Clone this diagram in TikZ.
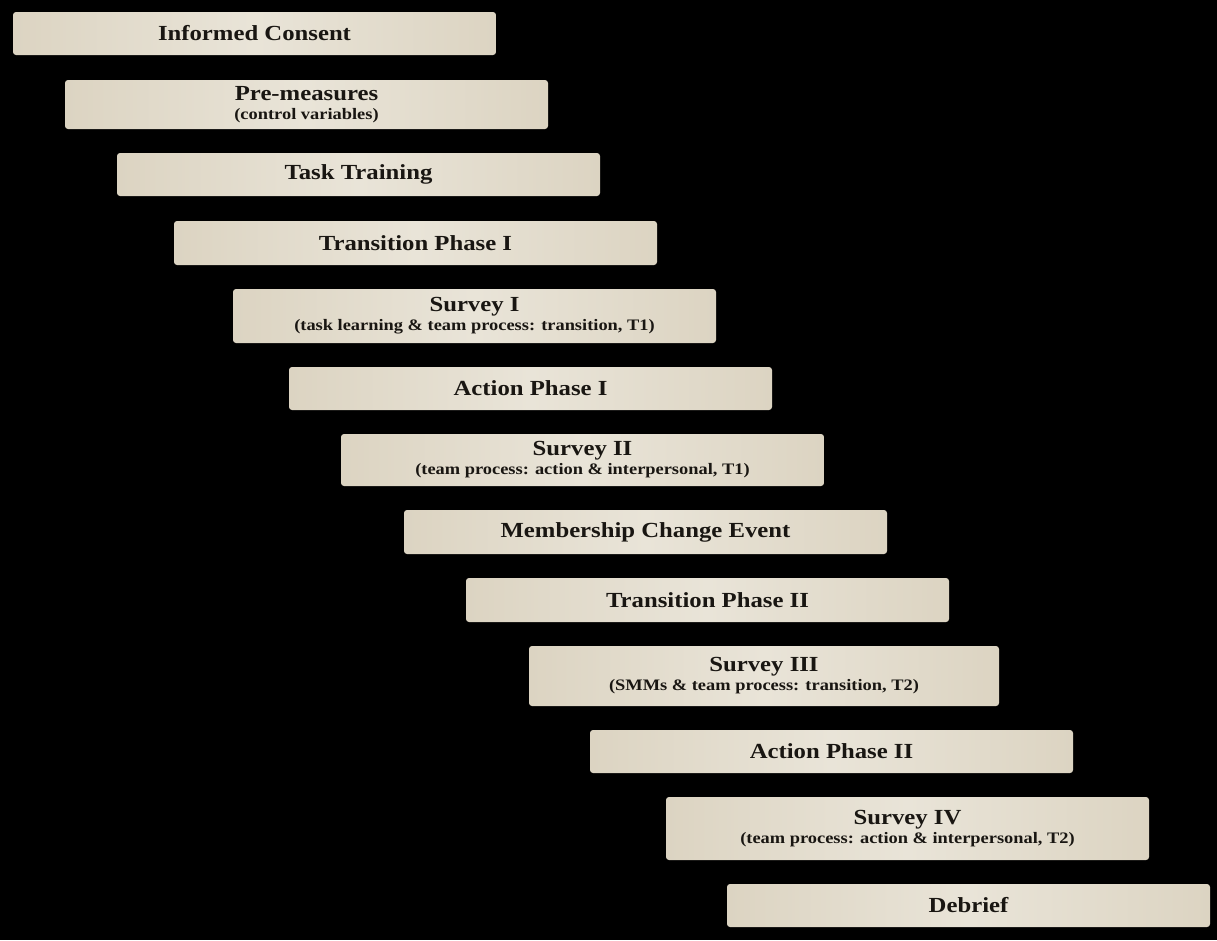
\documentclass[tikz,border=0pt]{standalone}
\usepackage{fontspec}
\setmainfont{Liberation Serif}
\newfontfamily\stagefont[FakeStretch=1.15]{Liberation Serif}
\definecolor{boxedge}{RGB}{220,212,194}
\definecolor{boxmid}{RGB}{233,228,216}
\definecolor{txt}{RGB}{25,22,18}
\begin{document}
\begin{tikzpicture}[x=1pt,y=-1pt,
  stage/.style={rounded corners=3pt, left color=boxedge, right color=boxedge, middle color=boxmid,
    text=txt, align=center, inner sep=0pt, font=\stagefont\fontsize{21.5}{23}\selectfont\bfseries}]
\fill[black] (0,0) rectangle (1217,940);
\useasboundingbox (0,0) rectangle (1217,940);
\newcommand{\stg}[6]{% name, x1, y1, x2, y2, text
  \node[stage, minimum width={#4-#2}, minimum height={#5-#3}] (#1) at ({(#2+#4)/2},{(#3+#5)/2}) {#6};}
\newcommand{\subt}[1]{\\[-4pt]{\fontsize{16}{18}\selectfont #1}}
\stg{ic}{13}{12}{496}{55}{Informed Consent}
\stg{pm}{65}{80}{548}{129}{Pre-measures\subt{(control variables)}}
\stg{tt}{117}{153}{600}{196}{Task Training}
\stg{tp1}{174}{221}{657}{265}{Transition Phase I}
\stg{s1}{233}{289}{716}{343}{Survey I\subt{(task learning \& team process: transition, T1)}}
\stg{ap1}{289}{367}{772}{410}{Action Phase I}
\stg{s2}{341}{434}{824}{486}{Survey II\subt{(team process: action \& interpersonal, T1)}}
\stg{mce}{404}{510}{887}{554}{Membership Change Event}
\stg{tp2}{466}{578}{949}{622}{Transition Phase II}
\stg{s3}{529}{646}{999}{706}{Survey III\subt{(SMMs \& team process: transition, T2)}}
\stg{ap2}{590}{730}{1073}{773}{Action Phase II}
\stg{s4}{666}{797}{1149}{860}{Survey IV\subt{(team process: action \& interpersonal, T2)}}
\stg{db}{727}{884}{1210}{927}{Debrief}
\end{tikzpicture}
\end{document}
